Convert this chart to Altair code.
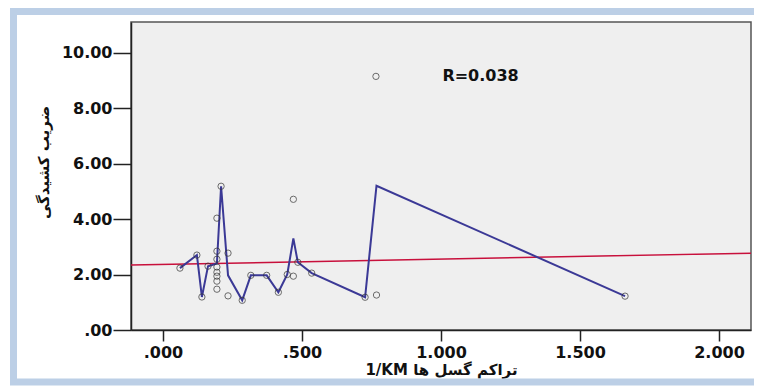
import altair as alt
import pandas as pd

# scatter points (fault density 1/KM, kurtosis coefficient)
pt_x = [0.061, 0.122, 0.140, 0.162, 0.194, 0.194, 0.194, 0.194, 0.194, 0.194, 0.194, 0.194,
        0.209, 0.234, 0.234, 0.285, 0.316, 0.373, 0.415, 0.447, 0.469, 0.469, 0.485, 0.535,
        0.727, 0.766, 0.768, 1.662]
pt_y = [2.23, 2.70, 1.19, 2.30, 4.03, 2.84, 2.55, 2.27, 2.08, 1.94, 1.76, 1.47,
        5.18, 2.77, 1.23, 1.07, 1.97, 1.97, 1.36, 2.00, 4.71, 1.94, 2.44, 2.05,
        1.18, 9.14, 1.26, 1.22]

# mean line vertices
ln_x = [0.061, 0.122, 0.140, 0.162, 0.194, 0.209, 0.234, 0.285, 0.316, 0.373, 0.415,
        0.447, 0.469, 0.485, 0.535, 0.727, 0.768, 1.662]
ln_y = [2.23, 2.70, 1.19, 2.30, 2.40, 5.18, 1.97, 1.07, 1.97, 1.97, 1.36,
        2.00, 3.30, 2.44, 2.05, 1.18, 5.20, 1.22]

# linear fit endpoints
fit_x = [-0.115, 2.115]
fit_y = [2.34, 2.77]

x_ticks = [0, 0.5, 1.0, 1.5, 2.0]
y_ticks = [0, 2, 4, 6, 8, 10]

x_title = "1/KM تراکم گسل ها"
y_title = "ضریب کشیدگی"
r_label = "R=0.038"

pts = pd.DataFrame({"x": pt_x, "y": pt_y})
lns = pd.DataFrame({"x": ln_x, "y": ln_y})
fit = pd.DataFrame({"x": fit_x, "y": fit_y})
lab = pd.DataFrame({"x": [1.005], "y": [9.14], "t": [r_label]})

xs = alt.Scale(domain=[-0.115, 2.115], nice=False, zero=False)
ys = alt.Scale(domain=[0, 11.1], nice=False, zero=False)

x_axis = alt.Axis(
    title=x_title, values=x_ticks,
    labelExpr="datum.value < 1 ? substring(format(datum.value, '.3f'), 1) : format(datum.value, '.3f')",
    grid=False, tickSize=11, tickColor="#222", tickWidth=1.5, domainColor="#222", domainWidth=1.5,
    labelFont="DejaVu Sans", labelFontWeight="bold", labelFontSize=16, labelColor="#111",
    labelPadding=3, titleFont="DejaVu Sans", titleFontSize=15, titleFontWeight="bold",
    titleColor="#111", titlePadding=2,
)
y_axis = alt.Axis(
    title=y_title, values=y_ticks,
    labelExpr="datum.value == 0 ? '.00' : format(datum.value, '.2f')",
    grid=False, tickSize=18, tickColor="#222", tickWidth=1.5, domainColor="#222", domainWidth=1.5,
    labelFont="DejaVu Sans", labelFontWeight="bold", labelFontSize=16, labelColor="#111",
    labelPadding=1, titleFont="DejaVu Sans", titleFontSize=15, titleFontWeight="bold",
    titleColor="#111", titlePadding=10, titleY=140,
)

frame = alt.Chart(pd.DataFrame({"a": [0]})).mark_rect(
    fill=None, stroke="#bccfe6", strokeWidth=7
).encode(
    x=alt.value(-117.5), x2=alt.value(700), y=alt.value(-10.5), y2=alt.value(360)
)

fit_line = alt.Chart(fit).mark_line(color="#c8103c", strokeWidth=1.5).encode(
    x=alt.X("x:Q", scale=xs, axis=x_axis), y=alt.Y("y:Q", scale=ys, axis=y_axis)
)
mean_line = alt.Chart(lns).mark_line(color="#3b3996", strokeWidth=2).encode(
    x=alt.X("x:Q", scale=xs), y=alt.Y("y:Q", scale=ys)
)
points = alt.Chart(pts).mark_point(
    shape="circle", filled=False, color="#333", size=40, strokeWidth=1
).encode(x=alt.X("x:Q", scale=xs), y=alt.Y("y:Q", scale=ys))
text = alt.Chart(lab).mark_text(
    align="left", baseline="middle", font="DejaVu Sans", fontWeight="bold", fontSize=16, color="#111"
).encode(x=alt.X("x:Q", scale=xs), y=alt.Y("y:Q", scale=ys), text="t:N")

chart = alt.layer(frame, fit_line, mean_line, points, text).properties(
    width=620, height=308,
    autosize=alt.AutoSizeParams(type="none"),
    padding={"left": 123, "top": 14, "right": 3, "bottom": 56},
    background="white",
).configure_view(fill="#efefef", stroke="#555", strokeWidth=1.5)

chart.save("out.html", embed_options={"renderer": "svg", "actions": False})
